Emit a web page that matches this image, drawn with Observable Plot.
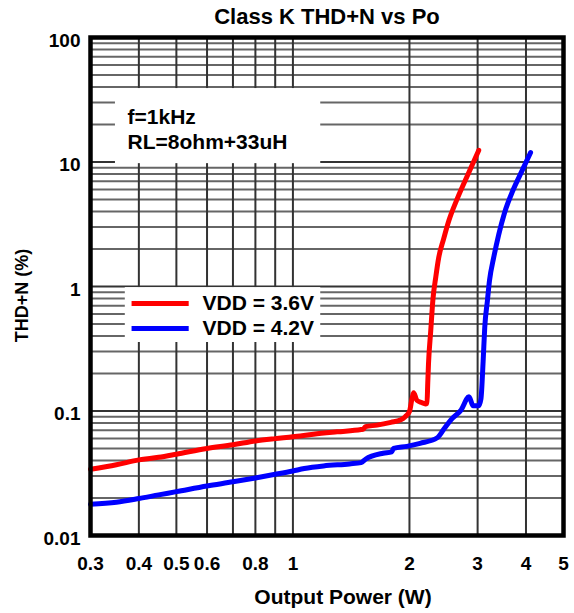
<!DOCTYPE html>
<html>
<head>
<meta charset="utf-8">
<script src="https://cdn.jsdelivr.net/npm/d3@7"></script>
<script src="https://cdn.jsdelivr.net/npm/@observablehq/plot@0.6"></script>
<style>
  html, body { margin: 0; padding: 0; background: #fff; }
</style>
</head>
<body>
<div id="chart"></div>
<script>
// ---- data ----
const title = "Class K THD+N vs Po";
const xLabel = "Output Power (W)";
const yLabel = "THD+N (%)";
const annotation = ["f=1kHz", "RL=8ohm+33uH"];
const seriesNames = ["VDD = 3.6V", "VDD = 4.2V"];
const seriesColors = ["#ff0000", "#0000ff"];

const xTicks = [0.3, 0.4, 0.5, 0.6, 0.8, 1, 2, 3, 4, 5];
const xGrid = [0.4, 0.5, 0.6, 0.7, 0.8, 0.9, 1, 2, 3, 4];
const yTicks = [0.01, 0.1, 1, 10, 100];
const yMinor = [0.02, 0.03, 0.04, 0.05, 0.06, 0.07, 0.08, 0.09,
                0.2, 0.3, 0.4, 0.5, 0.6, 0.7, 0.8, 0.9,
                2, 3, 4, 5, 6, 7, 8, 9,
                20, 30, 40, 50, 60, 70, 80, 90];

// VDD = 3.6V
const redX = [0.30, 0.35, 0.40, 0.45, 0.50, 0.60, 0.70, 0.80, 0.90, 1.00, 1.13, 1.30, 1.50, 1.52, 1.54, 1.65, 1.79, 1.90, 1.95, 2.00, 2.03, 2.05, 2.09, 2.15, 2.20, 2.22, 2.23, 2.24, 2.27, 2.30, 2.34, 2.38, 2.45, 2.53, 2.66, 2.83, 3.02];
const redY = [0.034, 0.037, 0.0405, 0.0425, 0.045, 0.050, 0.0535, 0.0575, 0.060, 0.062, 0.065, 0.068, 0.071, 0.0715, 0.075, 0.077, 0.081, 0.085, 0.090, 0.099, 0.125, 0.140, 0.122, 0.117, 0.114, 0.115, 0.167, 0.24, 0.44, 0.79, 1.2, 1.7, 2.4, 3.4, 5.1, 7.9, 12.4];

// VDD = 4.2V
const blueX = [0.30, 0.35, 0.40, 0.45, 0.50, 0.60, 0.70, 0.80, 0.90, 1.00, 1.07, 1.20, 1.40, 1.50, 1.54, 1.71, 1.80, 1.82, 1.97, 2.13, 2.36, 2.45, 2.56, 2.72, 2.85, 2.92, 3.02, 3.06, 3.10, 3.13, 3.18, 3.22, 3.30, 3.40, 3.52, 3.70, 3.90, 4.11];
const blueY = [0.0178, 0.0185, 0.0198, 0.0212, 0.0225, 0.025, 0.027, 0.029, 0.031, 0.033, 0.0345, 0.0362, 0.0376, 0.0385, 0.041, 0.0458, 0.047, 0.050, 0.052, 0.055, 0.061, 0.071, 0.085, 0.102, 0.130, 0.110, 0.110, 0.125, 0.25, 0.47, 0.77, 1.12, 1.7, 2.6, 3.9, 5.9, 8.4, 11.9];

// ---- tables built from arrays ----
const red = redX.map((x, i) => ({x, y: redY[i], s: seriesNames[0]}));
const blue = blueX.map((x, i) => ({x, y: blueY[i], s: seriesNames[1]}));
const legendY = [0.73, 0.46];

const chart = Plot.plot({
  width: 574,
  height: 613,
  marginLeft: 90,
  marginRight: 11,
  marginTop: 37,
  marginBottom: 78,
  style: {fontFamily: "'Liberation Sans', Arial, sans-serif", fontWeight: "bold", color: "#000", background: "#fff"},
  x: {type: "log", domain: [0.3, 5], axis: null},
  y: {type: "log", domain: [0.01, 100], axis: null},
  color: {domain: seriesNames, range: seriesColors},
  marks: [
    // grid
    Plot.ruleY(yMinor, {stroke: "#666", strokeWidth: 2}),
    Plot.ruleY(yTicks, {stroke: "#333", strokeWidth: 2}),
    Plot.ruleX(xGrid, {stroke: "#333", strokeWidth: 2}),
    // annotation box
    Plot.rect([annotation], {x1: 0.348, x2: 1.18, y1: 9.7, y2: 38.9, fill: "white"}),
    Plot.text(annotation, {x: 0.374, y: (d, i) => [22.8, 14.3][i], text: d => d, textAnchor: "start", fontSize: 21, fontWeight: "bold", fill: "#000"}),
    // legend box
    Plot.rect([seriesNames], {x1: 0.369, x2: 1.18, y1: 0.355, y2: 0.98, fill: "white"}),
    Plot.link(seriesNames, {x1: 0.383, x2: 0.538, y1: (d, i) => legendY[i], y2: (d, i) => legendY[i], stroke: d => d, strokeWidth: 5}),
    Plot.text(seriesNames, {x: 0.584, y: (d, i) => legendY[i], text: d => d, textAnchor: "start", fontSize: 21, fontWeight: "bold", fill: "#000"}),
    // curves
    Plot.line(red, {x: "x", y: "y", stroke: "s", strokeWidth: 5, curve: "monotone-x"}),
    Plot.line(blue, {x: "x", y: "y", stroke: "s", strokeWidth: 5, curve: "monotone-x"}),
    // frame
    Plot.frame({stroke: "#000", strokeWidth: 4.5}),
    // tick labels
    Plot.text(xTicks, {x: d => d, frameAnchor: "bottom", lineAnchor: "middle", dy: 28, text: d => String(d), fontSize: 19, fontWeight: "bold", fill: "#000"}),
    Plot.text(yTicks, {y: d => d, frameAnchor: "left", textAnchor: "end", lineAnchor: "middle", dx: -10, dy: 3, text: d => String(d), fontSize: 19, fontWeight: "bold", fill: "#000"}),
    // titles
    Plot.text([title], {frameAnchor: "top", lineAnchor: "middle", dy: -21, text: d => d, fontSize: 22, fontWeight: "bold", fill: "#000"}),
    Plot.text([xLabel], {frameAnchor: "bottom", lineAnchor: "middle", dy: 62, dx: 16, text: d => d, fontSize: 21, fontWeight: "bold", fill: "#000"}),
    Plot.text([yLabel], {frameAnchor: "left", textAnchor: "middle", lineAnchor: "middle", dx: -68, dy: 9, rotate: -90, text: d => d, fontSize: 18, fontWeight: "bold", fill: "#000"})
  ]
});
document.getElementById("chart").appendChild(chart);
</script>
</body>
</html>
